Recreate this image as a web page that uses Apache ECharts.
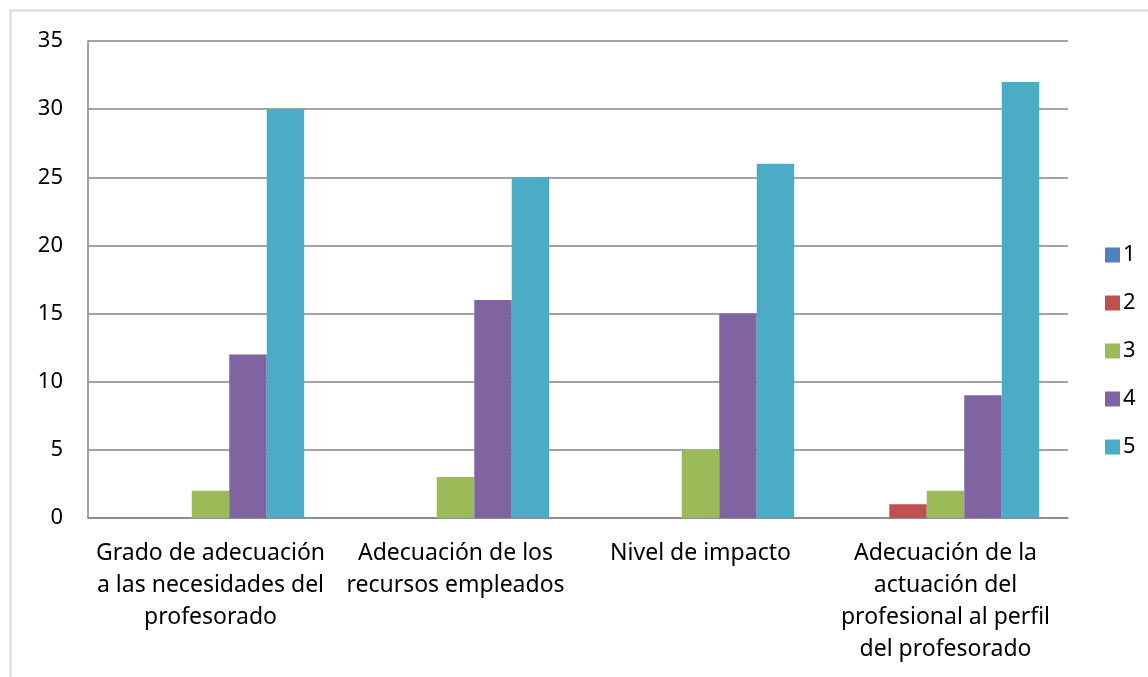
<!DOCTYPE html>
<html>
<head>
<meta charset="utf-8">
<script src="https://cdn.jsdelivr.net/npm/echarts@6/dist/echarts.min.js"></script>
<style>
  html, body { margin: 0; padding: 0; background: #fff; }
  #chart { width: 1148px; height: 677px; }
</style>
</head>
<body>
<div id="chart"></div>
<script>
// categorias del eje x
const categories = [
  'Grado de adecuación\na las necesidades del\nprofesorado',
  'Adecuación de los\nrecursos empleados',
  'Nivel de impacto',
  'Adecuación de la\nactuación del\nprofesional al perfil\ndel profesorado'
];
const seriesNames = ['1', '2', '3', '4', '5'];
const serie1 = [0, 0, 0, 0];
const serie2 = [0, 0, 0, 1];
const serie3 = [2, 3, 5, 2];
const serie4 = [12, 16, 15, 9];
const serie5 = [30, 25, 26, 32];
const colors = ['#4f81bd', '#c0504d', '#9bbb59', '#8064a2', '#4bacc6'];

const chart = echarts.init(document.getElementById('chart'));
const font = 'Noto Sans';
const allData = [serie1, serie2, serie3, serie4, serie5];

chart.setOption({
  animation: false,
  color: colors,
  textStyle: { fontFamily: font },
  graphic: [{
    type: 'rect',
    shape: { x: 10.5, y: 10.5, width: 1200, height: 700 },
    style: { fill: 'none', stroke: '#d9d9d9', lineWidth: 2 },
    silent: true
  }],
  grid: { left: 88, right: 80, top: 41, bottom: 159, containLabel: false },
  legend: {
    orient: 'vertical',
    left: 1100,
    top: 239,
    itemWidth: 15,
    itemHeight: 15,
    itemGap: 26,
    icon: 'rect',
    textStyle: { fontSize: 22, color: '#000', fontFamily: font, padding: [0, 0, 0, -2] },
    data: seriesNames
  },
  xAxis: {
    type: 'category',
    data: categories,
    axisLine: { lineStyle: { color: '#868686', width: 1.5 } },
    axisTick: { show: false },
    axisLabel: {
      interval: 0,
      fontSize: 23,
      color: '#000',
      lineHeight: 32,
      margin: 19,
      align: 'center'
    }
  },
  yAxis: {
    type: 'value',
    min: 0,
    max: 35,
    interval: 5,
    axisLine: { show: true, lineStyle: { color: '#868686', width: 1.5 } },
    axisTick: { show: false },
    splitLine: { lineStyle: { color: '#868686', width: 1.5 } },
    axisLabel: { fontSize: 22, color: '#000', margin: 25 }
  },
  series: seriesNames.map((name, i) => ({
    name: name,
    type: 'bar',
    data: allData[i],
    barGap: '0%',
    barCategoryGap: '23.5%',
    itemStyle: { color: colors[i] }
  }))
});
</script>
</body>
</html>
